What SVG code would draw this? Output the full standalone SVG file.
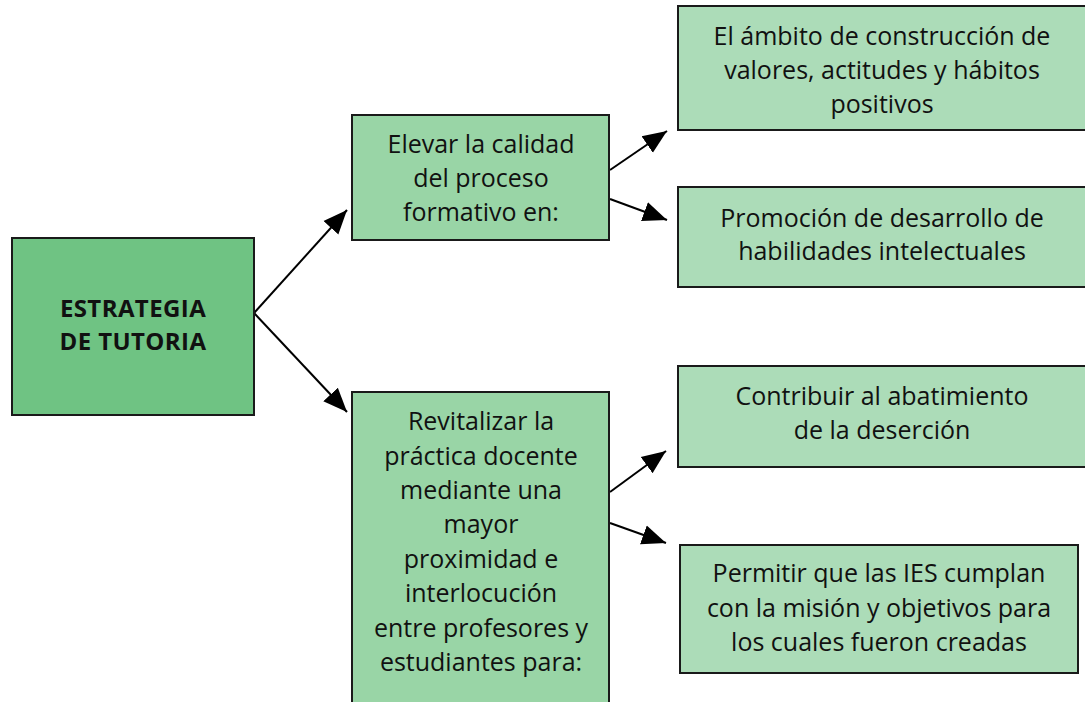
<svg xmlns="http://www.w3.org/2000/svg" width="1085" height="702" viewBox="0 0 1085 702">
<defs>
<style>
.n1{fill:#6fc383;stroke:#1a1a1a;stroke-width:2}
.n2{fill:#99d5a6;stroke:#1a1a1a;stroke-width:2}
.n3{fill:#acdcb8;stroke:#1a1a1a;stroke-width:2}
.t{font-family:"Open Sans","Noto Sans",sans-serif;font-size:25px;fill:#111;text-anchor:middle}
.b{font-weight:bold;font-size:24px;letter-spacing:0.4px}
.c{stroke:#000;stroke-width:2;fill:none;marker-end:url(#ah)}
</style>
<marker id="ah" markerUnits="userSpaceOnUse" markerWidth="26" markerHeight="22" viewBox="0 0 26 22" refX="24" refY="11" orient="auto">
<path d="M0,1 L24,11 L0,21 Z" fill="#000"/>
</marker>
</defs>
<rect width="1085" height="702" fill="#fff"/>
<g id="connectors">
<line class="c" x1="254" y1="313" x2="347" y2="210"/>
<line class="c" x1="254" y1="313" x2="347" y2="412"/>
<line class="c" x1="610" y1="170" x2="667" y2="131"/>
<line class="c" x1="610" y1="199" x2="667" y2="220"/>
<line class="c" x1="610" y1="492" x2="666" y2="451"/>
<line class="c" x1="610" y1="523" x2="666" y2="543"/>
</g>
<g id="n-estrategia">
<rect class="n1" x="12" y="238" width="242" height="177"/>
<text class="t b" x="133" y="317">ESTRATEGIA</text>
<text class="t b" x="133" y="350">DE TUTORIA</text>
</g>
<g id="n-elevar">
<rect class="n2" x="352" y="115" width="257" height="125"/>
<text class="t" x="481" y="153">Elevar la calidad</text>
<text class="t" x="481" y="187">del proceso</text>
<text class="t" x="481" y="221">formativo en:</text>
</g>
<g id="n-ambito">
<rect class="n3" x="678" y="6" width="420" height="124"/>
<text class="t" x="882" y="45">El ámbito de construcción de</text>
<text class="t" x="882" y="79">valores, actitudes y hábitos</text>
<text class="t" x="882" y="113">positivos</text>
</g>
<g id="n-promocion">
<rect class="n3" x="678" y="187" width="420" height="100"/>
<text class="t" x="882" y="227">Promoción de desarrollo de</text>
<text class="t" x="882" y="260">habilidades intelectuales</text>
</g>
<g id="n-revitalizar">
<rect class="n2" x="352" y="392" width="257" height="330"/>
<text class="t" x="481" y="430">Revitalizar la</text>
<text class="t" x="481" y="465">práctica docente</text>
<text class="t" x="481" y="499">mediante una</text>
<text class="t" x="481" y="533">mayor</text>
<text class="t" x="481" y="568">proximidad e</text>
<text class="t" x="481" y="602">interlocución</text>
<text class="t" x="481" y="637">entre profesores y</text>
<text class="t" x="481" y="671">estudiantes para:</text>
</g>
<g id="n-contribuir">
<rect class="n3" x="678" y="366" width="420" height="101"/>
<text class="t" x="882" y="405">Contribuir al abatimiento</text>
<text class="t" x="882" y="439">de la deserción</text>
</g>
<g id="n-permitir">
<rect class="n3" x="680" y="545" width="398" height="128"/>
<text class="t" x="879" y="582">Permitir que las IES cumplan</text>
<text class="t" x="879" y="617">con la misión y objetivos para</text>
<text class="t" x="879" y="651">los cuales fueron creadas</text>
</g>
</svg>
